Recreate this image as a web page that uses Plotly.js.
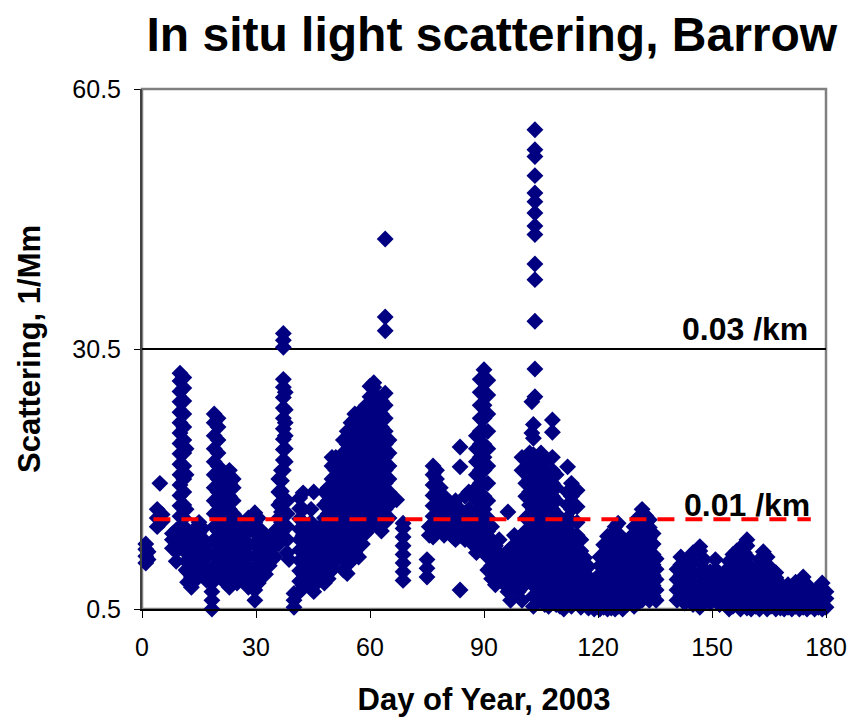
<!DOCTYPE html>
<html>
<head>
<meta charset="utf-8">
<script src="https://cdn.plot.ly/plotly-3.0.1.min.js"></script>
<style>
  html, body { margin: 0; padding: 0; background: #ffffff; }
  #chart { width: 848px; height: 719px; }
</style>
</head>
<body>
<div id="chart"></div>
<script>
// Hourly in situ light scattering at Barrow, grouped by day of year (2003).
// Each entry of *Days is a day; the matching entry of *Vals lists the readings (1/Mm).

const janDays = [1, 1.6, 4, 4.7, 5.3, 8, 9, 10, 11, 11.6, 12, 13, 14, 15, 16, 17, 18.4, 19, 20, 21, 22, 23, 24, 25, 26, 27, 28, 29.7, 30.6];
const janVals = [
  [5.8, 6.6, 7.4, 8.0],
  [6.2, 7.1],
  [10.0, 11.0, 12.0],
  [15.0],
  [10.6, 11.4],
  [7.5, 8.5, 9.2],
  [6.0, 7.2, 8.4, 9.6],
  [7.6, 8.8, 10.0, 11.2, 12.4, 13.6, 14.8, 16.0, 17.2, 18.4, 19.6, 20.8, 22.0, 23.2, 24.4, 25.6, 26.8, 27.7],
  [8.0, 9.5, 11.0, 12.5, 14.0, 15.5, 17.0, 18.5, 20.0, 21.5, 23.0, 24.5, 26.0, 27.2],
  [5.0, 6.0, 7.0, 8.0, 9.5, 12.0, 16.0, 19.0],
  [3.6, 4.8, 6.0, 7.2, 8.4, 9.6],
  [3.0, 4.2, 5.4, 6.6, 7.8, 9.0],
  [3.8, 5.0, 6.2, 7.4, 8.6, 9.8],
  [4.5, 5.7, 6.9, 8.1, 9.3, 10.5],
  [5.0, 6.2, 7.4, 8.6, 9.8],
  [3.8, 5.0, 6.5, 8.0],
  [0.5, 1.5, 2.5, 3.5, 4.6],
  [5.5, 7.0, 8.5, 10.0, 11.5, 13.0, 14.5, 16.0, 17.5, 19.0, 20.5, 22.0, 23.0],
  [5.0, 6.5, 8.0, 9.5, 11.0, 12.5, 14.0, 15.5, 17.0, 18.5, 20.0, 21.5, 22.5],
  [4.0, 5.5, 7.0, 8.5, 10.0, 11.5, 13.0, 14.5, 16.0],
  [3.5, 5.0, 6.5, 8.0, 9.5, 11.0],
  [3.0, 4.5, 6.0, 7.5, 9.0, 10.5, 12.0, 13.5, 15.0, 16.5],
  [4.0, 5.5, 7.0, 8.5, 10.0, 11.5, 13.0, 14.5, 15.5],
  [3.5, 5.0, 6.5, 8.0, 9.5, 11.0],
  [4.5, 6.0, 7.5, 9.0],
  [4.0, 5.5, 7.0, 8.5, 10.0],
  [3.0, 4.2, 5.4, 6.6, 7.8, 9.5, 11.0],
  [1.5, 2.7, 4.0, 5.3, 6.6, 8.0, 9.3, 10.5, 11.6],
  [3.5, 5.0, 6.5, 8.0, 9.5, 11.0]
];

const febDays = [31.5, 32.5, 33.5, 35, 36, 36.7, 37.2, 37.7, 38.2, 38.7, 40, 41.5, 42.4, 43.5, 44.5, 45.2, 46, 47, 48, 49, 50, 51, 52, 53, 54, 55, 56, 57, 58, 59];
const febVals = [
  [5.0, 6.5, 8.0, 9.5],
  [4.5, 6.0, 7.5, 9.0],
  [5.5, 7.0, 8.5],
  [6.5, 8.0, 9.5],
  [8.0, 9.5, 11.0, 12.5, 14.0, 15.5],
  [9.3, 10.5, 11.7, 12.9, 14.1, 15.3, 16.5],
  [16.5, 17.7, 18.9, 20.1, 21.3, 22.5, 23.7, 24.9, 26.1, 27.0, 30.7, 31.5, 32.3],
  [17.5, 19.0, 20.5, 22.0, 23.5, 25.5],
  [7.0, 8.5, 10.0, 11.5, 13.0],
  [6.2],
  [0.7, 1.5, 2.3],
  [2.5, 3.7, 4.9, 6.1, 7.3, 8.5, 9.7, 10.9, 12.1, 13.3],
  [3.2, 4.5, 6.0, 7.5, 9.0, 10.5, 12.0, 13.9],
  [4.0, 5.5, 7.0, 8.5, 10.0],
  [3.0, 4.5, 6.0, 7.5, 9.0, 10.5, 12.0],
  [2.5, 3.5, 5.0, 6.5, 8.0, 14.0],
  [3.5, 5.0, 6.5, 8.0, 9.5],
  [4.0, 5.5, 7.0, 8.5, 10.0],
  [3.5, 5.0, 6.5, 8.0, 9.5, 11.0, 12.5, 14.0],
  [4.0, 5.5, 7.0, 8.5, 10.0, 11.5, 13.0, 14.5],
  [5.0, 6.5, 8.0, 9.5, 11.0, 12.5, 14.0, 15.5, 17.0, 18.0],
  [6.0, 7.5, 9.0, 10.5, 12.0, 13.5, 15.0, 16.5, 18.0],
  [7.5, 9.0, 10.5, 12.0, 13.5, 15.0, 16.5, 17.5],
  [5.0, 6.5, 8.0, 9.5, 11.0, 12.5, 14.0, 15.5, 17.0, 18.5, 20.0],
  [4.6, 6.0, 7.5, 9.0, 10.5, 12.0, 13.5, 15.0, 16.5, 18.0, 19.5, 21.0],
  [6.0, 7.5, 9.0, 10.5, 12.0, 13.5, 15.0, 16.5, 18.0, 19.5, 21.0, 22.0],
  [7.0, 8.5, 10.0, 11.5, 13.0, 14.5, 16.0, 17.5, 19.0, 20.5, 22.0, 23.0],
  [6.5, 8.0, 9.5, 11.0, 12.5, 14.0, 15.5, 17.0, 18.5, 20.0, 21.5, 23.1],
  [8.0, 9.5, 11.0, 12.5, 14.0, 15.5, 17.0, 18.5, 20.0, 21.5, 22.5],
  [9.3, 10.8, 12.3, 13.8, 15.3, 16.8, 18.3, 19.8, 21.3, 22.8, 24.0]
];

const marDays = [60, 61, 62, 63, 64, 65, 67, 68.7, 75, 75.6, 76.6, 77.5, 78.5, 79.5, 80.5, 81.5, 82.5, 83.7, 85, 86, 87, 88, 89, 90];
const marVals = [
  [10.0, 11.5, 13.0, 14.5, 16.0, 17.5, 19.0, 20.5, 22.0, 23.5, 25.0, 26.2],
  [11.0, 12.5, 14.0, 15.5, 17.0, 18.5, 20.0, 21.5, 23.0, 24.5, 26.1, 26.6],
  [10.0, 11.5, 13.0, 14.5, 16.0, 17.5, 19.0, 20.5, 22.0, 23.5, 25.0],
  [9.5, 11.0, 12.5, 14.0, 15.5, 17.0, 18.5, 20.0, 21.5, 23.0, 24.5],
  [10.5, 12.0, 13.5, 15.0, 16.5, 18.0, 19.5, 21.0, 22.5, 24.0, 25.4, 32.6, 34.2, 43.2],
  [11.0, 12.5, 14.0, 15.5, 17.0, 18.5, 20.0],
  [13.1],
  [3.8, 4.8, 5.8, 6.8, 7.8, 8.8, 9.8, 10.4],
  [4.2, 5.2, 6.2],
  [9.0, 10.0],
  [8.8, 10.0, 11.2, 12.4, 13.6, 14.8, 16.0, 17.0],
  [9.5, 11.0, 12.5, 14.0, 15.5, 16.5],
  [10.0, 11.5, 13.0, 14.5],
  [9.0, 10.5, 12.0, 13.5],
  [9.5, 11.0, 12.5],
  [9.0, 10.5, 12.0],
  [8.5, 10.0, 11.5, 13.0],
  [2.7, 9.0, 10.5, 12.0, 16.9, 19.2],
  [8.5, 10.0, 11.5, 13.5],
  [9.0, 10.5, 12.0, 14.0],
  [8.0, 9.5, 11.0],
  [7.0, 8.5, 10.0, 11.5, 13.0, 14.5, 16.0, 17.5, 19.0, 20.5],
  [7.7, 9.0, 10.5, 12.0, 13.5, 15.0, 16.5, 18.0, 19.5, 21.0, 22.5, 24.0, 25.5, 27.0],
  [7.5, 9.0, 10.5, 12.0, 13.5, 15.0, 16.5, 18.0, 19.5, 21.0, 22.5, 24.0, 25.5, 27.0, 28.1]
];

const aprDays = [91, 92, 93, 94, 95, 96.3, 97, 98, 99, 100, 101, 102, 102.6, 103, 103.4, 104, 105, 106, 107, 108, 109, 110, 111, 112, 113, 114.5, 115.5, 116.5, 117.5, 119];
const aprVals = [
  [5.0, 6.5, 8.0, 9.5, 11.0, 13.0, 15.0, 17.0, 19.0, 21.0, 23.0, 25.2, 26.9],
  [4.0, 5.5, 7.0, 8.5, 10.0],
  [3.3, 4.8, 6.3, 7.8],
  [4.0, 5.5, 7.0, 8.5],
  [3.5, 5.0, 6.5],
  [2.5, 4.0, 5.5, 7.0, 11.7],
  [1.5, 3.0, 4.5, 6.0, 7.5],
  [3.0, 4.5, 6.0, 7.5, 9.0],
  [2.5, 4.0, 5.5, 7.0, 8.5],
  [1.5, 3.0, 4.5, 6.0, 7.5, 9.0, 16.5, 18.0],
  [3.5, 5.0, 6.5, 8.0, 9.5, 11.0, 13.5, 15.0],
  [5.0, 6.5, 8.0, 9.5, 11.0, 12.5, 14.0, 15.5, 17.0, 18.5],
  [20.8, 24.4],
  [0.8, 2.0, 3.2, 4.4, 5.6, 6.8, 8.0, 9.2, 10.5, 12.0, 13.5, 15.0, 16.5, 18.3, 20.2, 21.8],
  [25.0, 28.2, 33.7, 38.5, 40.3, 43.7, 44.7, 46.2, 47.5, 48.5, 50.5, 52.7, 53.5, 55.8],
  [1.5, 3.0, 4.5, 6.0, 7.5, 9.0, 10.5, 12.0, 13.5, 15.0, 16.5, 18.0],
  [2.0, 3.5, 5.0, 6.5, 8.0, 9.5, 11.0, 12.5, 14.0, 15.5, 17.0, 18.5],
  [1.0, 2.5, 4.0, 5.5, 7.0, 8.5, 10.0, 11.5, 13.0, 14.5, 16.0, 17.5],
  [0.8, 2.2, 3.6, 5.0, 6.4, 7.8, 9.2, 10.6, 12.0, 13.5],
  [1.5, 3.0, 4.5, 6.0, 7.5, 9.0, 10.5, 12.0, 13.5, 15.0, 16.5, 18.0, 20.9, 22.3],
  [1.0, 2.5, 4.0, 5.5, 7.0, 8.5, 10.0, 11.5, 13.0, 14.5, 16.0],
  [0.8, 2.2, 3.6, 5.0, 6.4, 7.8, 9.2, 10.6],
  [0.5, 1.8, 3.1, 4.4, 5.7, 7.0, 8.3, 9.6],
  [1.2, 2.6, 4.0, 5.4, 6.8, 8.2, 9.6, 11.0, 12.5, 14.0, 16.9],
  [0.8, 2.2, 3.6, 5.0, 6.4, 7.8, 9.2, 10.6, 12.0, 13.5, 15.0],
  [1.5, 3.0, 4.5, 6.0, 7.5, 9.0, 10.5, 12.3, 14.2],
  [0.7, 2.0, 3.3, 4.6, 5.9, 7.2, 8.5],
  [1.2, 2.5, 3.8, 5.1, 6.4],
  [0.6, 1.8, 3.0, 4.2, 5.4],
  [0.5, 1.6, 2.7, 3.8]
];

const mayDays = [120.5, 121.5, 122.5, 123.5, 124.5, 125.3, 126.5, 127.6, 128.5, 129.5, 130.5, 131.6, 132.5, 133.5, 134.5, 135.3, 140.8, 141.8, 142.8, 144, 145, 146.8, 148, 149.5, 150.9];
const mayVals = [
  [0.5, 1.5, 2.5, 3.5, 4.5, 5.5, 6.5],
  [0.7, 1.9, 3.1, 4.3, 5.5, 6.7, 7.9],
  [0.5, 1.7, 2.9, 4.1, 5.3, 6.5, 7.7, 8.9],
  [0.6, 1.8, 3.0, 4.2, 5.4, 6.6, 7.8, 9.0],
  [0.5, 1.7, 2.9, 4.1, 5.3, 6.5, 7.7, 8.9, 10.0],
  [0.8, 2.0, 3.2, 4.4, 5.6, 6.8, 8.0, 9.2, 10.4],
  [0.5, 1.7, 2.9, 4.1, 5.3, 6.5, 7.7, 8.6],
  [1.0, 2.2, 3.4, 4.6, 5.8, 7.0],
  [1.5, 2.7, 3.9, 5.1, 6.3, 7.5, 8.7],
  [0.8, 2.0, 3.2, 4.4, 5.6, 6.8, 8.0, 9.2, 10.0],
  [1.2, 2.4, 3.6, 4.8, 6.0, 7.2, 8.4, 9.6, 11.0],
  [1.5, 2.7, 3.9, 5.1, 6.3, 7.5, 8.7, 9.9, 11.1, 12.0],
  [2.0, 3.2, 4.4, 5.6, 6.8, 8.0, 9.2, 10.4, 11.3],
  [1.5, 2.7, 3.9, 5.1, 6.3, 7.5, 8.7, 9.9, 10.8],
  [2.0, 3.2, 4.4, 5.6, 6.8, 8.0, 9.2],
  [1.5, 2.7, 3.9, 5.1, 6.3],
  [1.5, 2.7, 3.9, 5.1],
  [2.0, 3.2, 4.4, 5.6, 6.5],
  [1.2, 2.4, 3.6, 4.8, 6.0],
  [1.5, 2.7, 3.9, 5.1, 6.3],
  [1.0, 2.2, 3.4, 4.6, 5.8, 7.0],
  [0.7, 2.0, 3.3, 4.6, 5.9, 7.2, 7.7],
  [1.5, 2.7, 3.9, 5.1, 6.2],
  [1.2, 2.4, 3.6, 4.8],
  [1.5, 2.7, 3.9, 5.1, 6.2]
];

const junDays = [152, 153, 154.5, 155.5, 156.5, 157.5, 158.5, 159.2, 160.3, 161.5, 162.5, 163.5, 164.5, 165.5, 166.8, 168, 169, 170, 171, 172, 173, 174, 175, 176, 177, 178, 179, 180];
const junVals = [
  [1.0, 2.2, 3.4, 4.6],
  [1.2, 2.4, 3.6],
  [0.5, 1.7, 2.9, 4.1, 5.3, 6.0],
  [0.8, 2.0, 3.2, 4.4, 5.6, 6.8],
  [1.2, 2.4, 3.6, 4.8, 6.0, 7.2],
  [0.5, 1.7, 2.9, 4.1, 5.3, 6.5, 7.5],
  [1.0, 2.2, 3.4, 4.6, 5.8, 7.0, 8.0],
  [0.6, 1.8, 3.0, 4.2, 5.4, 6.6, 7.8, 8.5],
  [0.5, 1.7, 2.9, 4.1, 5.3],
  [0.8, 2.0, 3.2, 4.4],
  [0.5, 1.7, 2.9, 4.1, 5.3, 6.2],
  [1.0, 2.2, 3.4, 4.6, 5.8, 7.1],
  [0.5, 1.7, 2.9, 4.1, 5.3, 6.5],
  [0.8, 2.0, 3.2, 4.4, 5.2],
  [0.5, 1.7, 2.9, 4.1, 4.7],
  [0.6, 1.6, 2.6, 3.4],
  [0.5, 1.5, 2.5],
  [0.7, 1.7, 2.7, 3.3],
  [0.5, 1.5, 2.5],
  [0.8, 1.8, 2.8, 3.6],
  [0.5, 1.5, 2.5, 3.5],
  [0.7, 1.7, 2.7, 3.7, 4.2],
  [0.5, 1.5, 2.5, 3.3],
  [0.8, 1.8, 2.6],
  [0.5, 1.5, 2.5],
  [0.7, 1.7, 2.7],
  [0.5, 1.5, 2.5, 3.5],
  [0.7, 1.7, 2.5]
];

// Reference levels: 0.03 /km sits on the 30.5 gridline, 0.01 /km is the dashed red line
const guideLabels = ['0.03 /km', '0.01 /km'];
const guideLevels = [30.5, 10.85];
const guideSpan = [3, 176];

const xTicks = [0, 30, 60, 90, 120, 150, 180];
const yTicks = [0.5, 30.5, 60.5];
const yTickText = ['0.5', '30.5', '60.5'];

// Flatten the per-day columns into x / y point lists
function flatten(dayGroups, valGroups) {
  const xs = [], ys = [];
  dayGroups.forEach((d, i) => {
    valGroups[i].forEach(v => { xs.push(d); ys.push(v); });
  });
  return { xs, ys };
}

const allX = [], allY = [];
[[janDays, janVals], [febDays, febVals], [marDays, marVals],
 [aprDays, aprVals], [mayDays, mayVals], [junDays, junVals]].forEach(([d, v]) => {
  const f = flatten(d, v);
  allX.push(...f.xs);
  allY.push(...f.ys);
});

const FONT = '"Liberation Sans", Arial, Helvetica, sans-serif';

const traces = [
  {
    type: 'scatter',
    mode: 'markers',
    x: allX,
    y: allY,
    cliponaxis: false,
    marker: { symbol: 'diamond', size: 13, color: '#000080', line: { width: 0 } },
    hoverinfo: 'x+y',
    showlegend: false
  },
  {
    type: 'scatter',
    mode: 'lines',
    x: guideSpan,
    y: [guideLevels[1], guideLevels[1]],
    line: { color: '#ff0000', width: 4, dash: '17px,11px' },
    hoverinfo: 'skip',
    showlegend: false
  }
];

const layout = {
  width: 848,
  height: 719,
  paper_bgcolor: '#ffffff',
  plot_bgcolor: '#ffffff',
  margin: { l: 142, r: 22, t: 89, b: 110 },
  font: { family: FONT, color: '#000000' },
  title: {
    text: '<b>In situ light scattering, Barrow</b>',
    font: { family: FONT, size: 48, color: '#000000' },
    x: 0.58, xref: 'container', xanchor: 'center',
    y: 0.953, yref: 'container', yanchor: 'middle'
  },
  xaxis: {
    range: [0, 180],
    tickvals: xTicks,
    ticks: 'outside',
    ticklen: 7,
    tickcolor: '#000000',
    tickfont: { family: FONT, size: 25, color: '#000000' },
    ticklabelstandoff: 8,
    showline: true,
    linecolor: '#000000',
    linewidth: 2,
    showgrid: false,
    zeroline: false,
    title: {
      text: '<b>Day of Year, 2003</b>',
      font: { family: FONT, size: 31, color: '#000000' },
      standoff: 28
    }
  },
  yaxis: {
    range: [0.5, 60.5],
    tickvals: yTicks,
    ticktext: yTickText,
    ticks: 'outside',
    ticklen: 6,
    tickcolor: '#000000',
    tickfont: { family: FONT, size: 25, color: '#000000' },
    ticklabelstandoff: 8,
    showline: true,
    linecolor: '#404040',
    linewidth: 2,
    showgrid: true,
    gridcolor: '#000000',
    gridwidth: 1.2,
    zeroline: false,
    title: {
      text: '<b>Scattering, 1/Mm</b>',
      font: { family: FONT, size: 31, color: '#000000' },
      standoff: 22
    }
  },
  shapes: [
    {
      type: 'rect', xref: 'paper', yref: 'paper',
      x0: 0, x1: 1, y0: 0, y1: 1,
      line: { color: '#808080', width: 2.5 },
      layer: 'below'
    }
  ],
  annotations: [
    {
      text: '<b>' + guideLabels[0] + '</b>',
      xref: 'x', yref: 'y',
      x: 175.8, y: guideLevels[0],
      xanchor: 'right', yanchor: 'bottom',
      showarrow: false,
      font: { family: FONT, size: 32, color: '#000000' }
    },
    {
      text: '<b>' + guideLabels[1] + '</b>',
      xref: 'x', yref: 'y',
      x: 176.2, y: guideLevels[1],
      xanchor: 'right', yanchor: 'bottom',
      yshift: -6,
      showarrow: false,
      font: { family: FONT, size: 32, color: '#000000' }
    }
  ]
};

Plotly.newPlot('chart', traces, layout, { displayModeBar: false, staticPlot: true });
</script>
</body>
</html>
